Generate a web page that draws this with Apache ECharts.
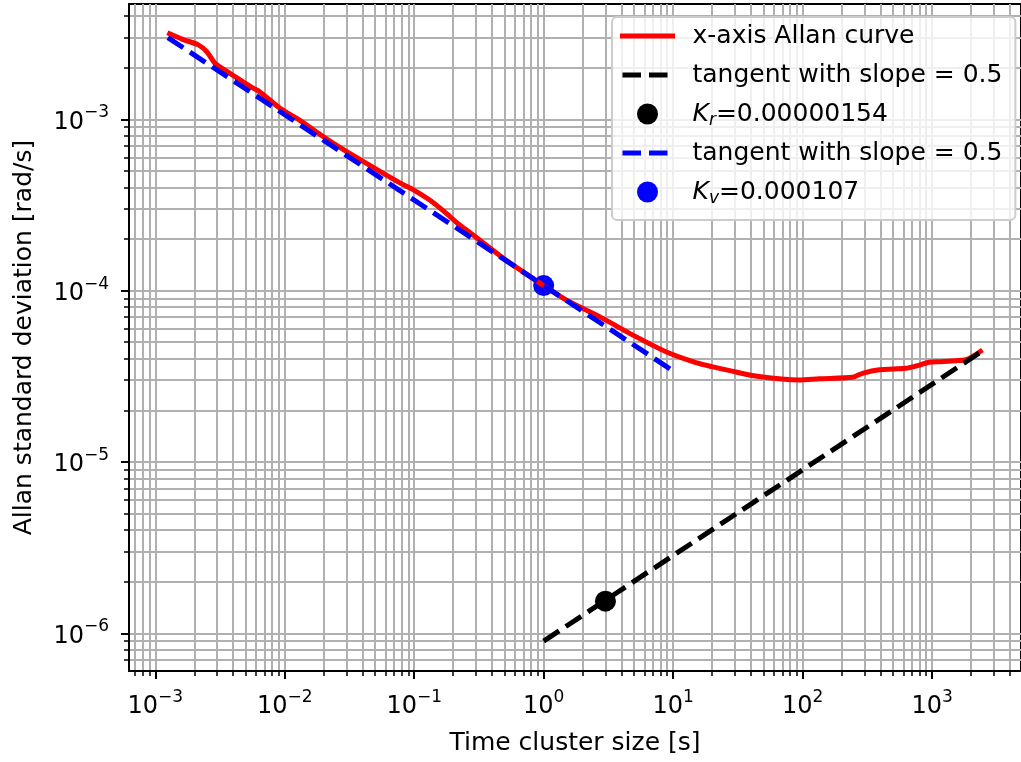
<!DOCTYPE html>
<html>
<head>
<meta charset="utf-8">
<title>Allan deviation</title>
<script src="https://cdn.jsdelivr.net/npm/echarts@6/dist/echarts.min.js"></script>
<style>
  html, body { margin: 0; padding: 0; background: #fff; }
  #chart { width: 1021px; height: 762px; }
</style>
</head>
<body>
<div id="chart"></div>
<script>
  // cluster size tau [s] and Allan deviation [rad/s] of the x-axis gyro
  var tau = [1.24e-3, 1.64e-3, 2.15e-3, 2.5e-3, 2.9e-3, 3.8e-3, 5.7e-3, 6.4e-3, 9.2e-3, 1.3e-2,
    1.9e-2, 2.8e-2, 4.0e-2, 6.0e-2, 8.0e-2, 0.1, 0.13, 0.17, 0.22, 0.3,
    0.46, 0.65, 1.0, 1.5, 2.7, 4.9, 8.8, 15, 20, 28,
    46, 94, 135, 243, 290, 391, 628, 750, 950, 1135,
    1527, 1820, 2050, 2450];
  var sigma = [3.20e-3, 2.92e-3, 2.72e-3, 2.48e-3, 2.12e-3, 1.85e-3, 1.52e-3, 1.45e-3, 1.16e-3, 9.9e-4,
    8.1e-4, 6.7e-4, 5.7e-4, 4.75e-4, 4.2e-4, 3.85e-4, 3.4e-4, 2.9e-4, 2.45e-4, 2.05e-4,
    1.6e-4, 1.33e-4, 1.07e-4, 8.8e-5, 7.05e-5, 5.5e-5, 4.4e-5, 3.8e-5, 3.6e-5, 3.4e-5,
    3.15e-5, 3.01e-5, 3.06e-5, 3.12e-5, 3.29e-5, 3.45e-5, 3.52e-5, 3.63e-5, 3.82e-5, 3.85e-5,
    3.9e-5, 3.95e-5, 4.12e-5, 4.5e-5];

  // tangent lines (end points) and the read-off points
  var rateTangent = [[1, 9.0e-7], [2450, 4.45e-5]];
  var rateDot = [[3, 1.54e-6]];
  var angleTangent = [[1.25e-3, 3.0e-3], [10, 3.4e-5]];
  var angleDot = [[1, 1.07e-4]];

  var seriesNames = ['allan', 'tanR', 'dotR', 'tanV', 'dotV'];
  var legendLabels = {
    allan: 'x-axis Allan curve',
    tanR: 'tangent with slope = 0.5',
    dotR: '{k|K}{s|r}=0.00000154',
    tanV: 'tangent with slope = 0.5',
    dotV: '{k|K}{s|v}=0.000107'
  };

  var xTicks = [1e-3, 1e-2, 1e-1, 1, 10, 100, 1000];
  var yTicks = [1e-6, 1e-5, 1e-4, 1e-3];

  var xMin = Math.pow(10, -3.203), xMax = Math.pow(10, 3.687);
  var yMin = Math.pow(10, -6.22), yMax = Math.pow(10, -2.327);

  // minor grid at 2..9 x 10^n
  function minorTicks(lo, hi, from, to) {
    var out = [];
    for (var n = from; n <= to; n++) {
      for (var k = 2; k <= 9; k++) {
        var v = k * Math.pow(10, n);
        if (v > lo && v < hi) out.push(v);
      }
    }
    return out;
  }
  var xMinor = minorTicks(xMin, xMax, -4, 3);
  var yMinor = minorTicks(yMin, yMax, -7, -3);

  var FONT = 'DejaVu Sans';
  var gridColor = '#b0b0b0';
  var DASH = [18.5, 8];

  function powLabel(value) {
    var e = Math.round(Math.log(value) / Math.LN10);
    return '{b|10}{e|' + String(e).replace('-', '\u2212') + '}';
  }
  var powRich = {
    b: { fontFamily: FONT, fontSize: 24, color: '#000', lineHeight: 30, verticalAlign: 'bottom' },
    e: { fontFamily: FONT, fontSize: 17, color: '#000', lineHeight: 30, verticalAlign: 'top' }
  };

  function majorAxis(ticks, name, nameGap, margin) {
    return {
      type: 'log',
      logBase: 10,
      name: name,
      nameLocation: 'middle',
      nameGap: nameGap,
      nameTextStyle: { fontFamily: FONT, fontSize: 25, color: '#000' },
      axisLine: { show: true, onZero: false, lineStyle: { color: '#000', width: 2 } },
      axisTick: { show: true, customValues: ticks, length: 8, lineStyle: { color: '#000', width: 2 } },
      axisLabel: { show: true, customValues: ticks, margin: margin, formatter: powLabel, rich: powRich },
      splitLine: { show: true, lineStyle: { color: gridColor, width: 2 } }
    };
  }
  function minorAxis(ticks) {
    return {
      type: 'log',
      logBase: 10,
      axisLine: { show: false, onZero: false },
      axisTick: { show: true, customValues: ticks, length: 5, lineStyle: { color: '#000', width: 1.5 } },
      axisLabel: { show: false },
      splitLine: { show: true, lineStyle: { color: gridColor, width: 2 } }
    };
  }

  var xMajor = majorAxis(xTicks, 'Time cluster size [s]', 60, 18);
  xMajor.position = 'bottom'; xMajor.min = xMin; xMajor.max = xMax;
  var xMinorAxis = minorAxis(xMinor);
  xMinorAxis.position = 'bottom'; xMinorAxis.min = xMin; xMinorAxis.max = xMax;

  var yMajor = majorAxis(yTicks, 'Allan standard deviation [rad/s]', 92, 20);
  yMajor.position = 'left'; yMajor.min = yMin; yMajor.max = yMax;
  var yMinorAxis = minorAxis(yMinor);
  yMinorAxis.position = 'left'; yMinorAxis.min = yMin; yMinorAxis.max = yMax;

  var allanData = tau.map(function (t, i) { return [t, sigma[i]]; });

  // legend handles: plain lines for the line series, no marker
  var noMarker = { color: 'rgba(0,0,0,0)', borderWidth: 0 };
  var legendData = [
    { name: 'allan', lineStyle: { color: '#ff0000', width: 5, type: 'solid', cap: 'square' }, itemStyle: noMarker },
    { name: 'tanR', lineStyle: { color: '#000', width: 5, type: DASH, cap: 'butt' }, itemStyle: noMarker },
    { name: 'dotR' },
    { name: 'tanV', lineStyle: { color: '#0000ff', width: 5, type: DASH, cap: 'butt' }, itemStyle: noMarker },
    { name: 'dotV' }
  ];

  var chart = echarts.init(document.getElementById('chart'));
  chart.setOption({
    animation: false,
    backgroundColor: '#fff',
    grid: {
      left: 129, right: -1, top: 4, bottom: 91,
      show: true, borderColor: '#000', borderWidth: 2, backgroundColor: 'transparent'
    },
    xAxis: [xMajor, xMinorAxis],
    yAxis: [yMajor, yMinorAxis],
    legend: {
      orient: 'vertical',
      left: 612,
      top: 17,
      padding: [4, 13, 13, 8],
      itemWidth: 50,
      itemHeight: 21,
      itemGap: 9,
      backgroundColor: 'rgba(255,255,255,0.8)',
      borderColor: '#cccccc',
      borderWidth: 2,
      borderRadius: 5,
      data: legendData,
      formatter: function (name) { return legendLabels[name]; },
      textStyle: {
        fontFamily: FONT,
        fontSize: 25,
        color: '#000',
        lineHeight: 30,
        padding: [0, 0, 0, 15],
        rich: {
          k: { fontFamily: FONT, fontSize: 25, fontStyle: 'italic', color: '#000', lineHeight: 30 },
          s: { fontFamily: FONT, fontSize: 17, fontStyle: 'italic', color: '#000', lineHeight: 22, verticalAlign: 'bottom' }
        }
      }
    },
    series: [
      {
        name: 'allan', type: 'line', data: allanData,
        symbol: 'none', showSymbol: false, smooth: 0.25,
        lineStyle: { color: '#ff0000', width: 5 },
        itemStyle: { color: '#ff0000' }
      },
      {
        name: 'tanR', type: 'line', data: rateTangent,
        symbol: 'none', showSymbol: false,
        lineStyle: { color: '#000', width: 5, type: DASH },
        itemStyle: { color: '#000' }
      },
      {
        name: 'dotR', type: 'scatter', data: rateDot,
        symbol: 'circle', symbolSize: 21,
        itemStyle: { color: '#000', opacity: 1 }
      },
      {
        name: 'tanV', type: 'line', data: angleTangent,
        symbol: 'none', showSymbol: false,
        lineStyle: { color: '#0000ff', width: 5, type: DASH },
        itemStyle: { color: '#0000ff' }
      },
      {
        name: 'dotV', type: 'scatter', data: angleDot,
        symbol: 'circle', symbolSize: 21,
        itemStyle: { color: '#0000ff', opacity: 1 }
      }
    ]
  });
</script>
</body>
</html>
